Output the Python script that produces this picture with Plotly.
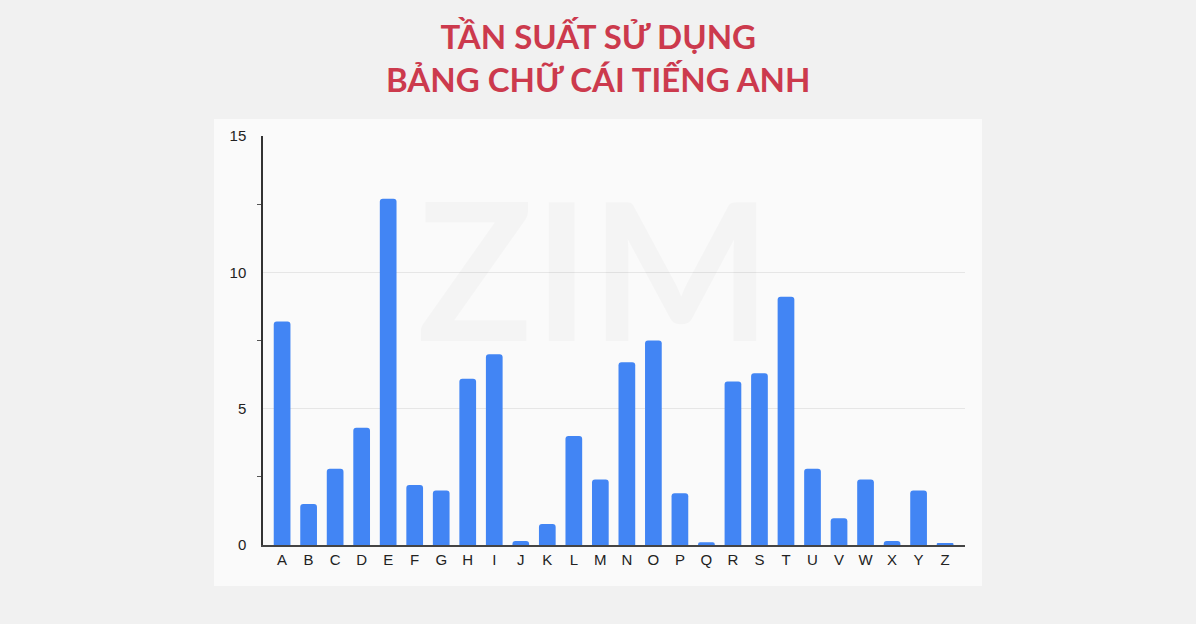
import plotly.graph_objects as go

letters = list("ABCDEFGHIJKLMNOPQRSTUVWXYZ")
frequency = [8.2, 1.5, 2.8, 4.3, 12.7, 2.2, 2.0, 6.1, 7.0, 0.15, 0.77, 4.0, 2.4,
             6.7, 7.5, 1.9, 0.1, 6.0, 6.3, 9.1, 2.8, 0.98, 2.4, 0.15, 2.0, 0.07]
y_ticks = [0, 5, 10, 15]
minor_ticks = [2.5, 7.5, 12.5]
title_lines = ["TẦN SUẤT SỬ DỤNG", "BẢNG CHỮ CÁI TIẾNG ANH"]

fig = go.Figure()
fig.add_trace(go.Bar(
    x=letters, y=frequency,
    marker=dict(color="#4285f4", cornerradius=3, line=dict(width=0)),
    width=0.63, hoverinfo="x+y",
))

W, H = 1196, 624
L, R, T, B = 263, 965, 136, 545
pw, ph = R - L, B - T

def px(x):
    return (x - L) / pw

def py(y):
    return (B - y) / ph

# white panel
fig.add_shape(type="rect", xref="paper", yref="paper",
              x0=px(214), x1=px(982), y0=py(586), y1=py(119),
              fillcolor="#fafafa", line=dict(width=0), layer="below")

# watermark
fig.add_annotation(text="<b>ZIM</b>", xref="paper", yref="paper",
                   x=px(594), y=py(266), xanchor="center", yanchor="middle", showarrow=False,
                   font=dict(family="Lato", size=192, color="rgba(0,0,0,0.022)", weight=900))

fig.add_annotation(text="<br>".join(title_lines), xref="paper", yref="paper",
                   x=px(598), y=py(57), xanchor="center", yanchor="middle", showarrow=False,
                   font=dict(family="Lato", size=33, color="#cc3a4d", weight="bold"),
                   align="center")

fig.update_layout(
    width=W, height=H,
    margin=dict(l=L, r=W - R, t=T, b=H - B),
    paper_bgcolor="#f1f1f1", plot_bgcolor="rgba(0,0,0,0)",
    showlegend=False,
    font=dict(family="Liberation Sans, Arial", size=14, color="#222"),
)
fig.update_xaxes(
    range=[-0.72, 25.75], showgrid=False, showline=True, linecolor="#444", linewidth=1.5,
    ticks="", tickfont=dict(size=15, color="#222"), fixedrange=True,
)
fig.update_yaxes(
    range=[0, 15], tickvals=y_ticks, showgrid=True, gridcolor="#e6e6e6", gridwidth=1,
    showline=True, linecolor="#333", linewidth=1.5, zeroline=False,
    ticks="", ticklabelstandoff=12, tickfont=dict(size=15, color="#222"),
    minor=dict(tickvals=minor_ticks, ticks="outside", ticklen=4, tickcolor="#555", tickwidth=1, showgrid=False),
    fixedrange=True,
)

fig.write_html("out.html", config={"displayModeBar": False},
               post_script="document.body.style.margin='0';document.body.style.padding='0';")
